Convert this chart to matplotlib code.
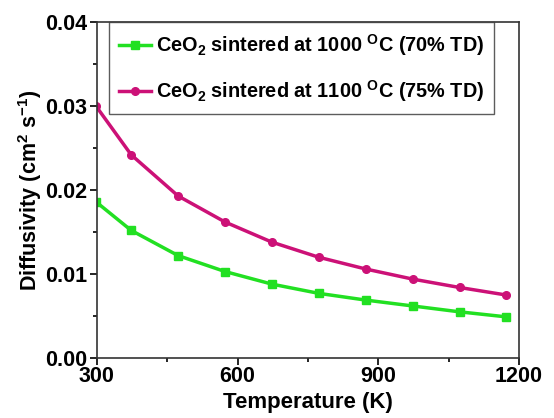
import matplotlib
matplotlib.use("Agg")
import matplotlib.pyplot as plt
from matplotlib.ticker import MultipleLocator

plt.rcParams["font.family"] = "Liberation Sans"
plt.rcParams["font.weight"] = "bold"
plt.rcParams["mathtext.fontset"] = "custom"
plt.rcParams["mathtext.rm"] = "Liberation Sans:bold"
plt.rcParams["mathtext.bf"] = "Liberation Sans:bold"
plt.rcParams["mathtext.default"] = "bf"

temperature = [298, 373, 473, 573, 673, 773, 873, 973, 1073, 1173]
d_1000 = [0.0186, 0.0152, 0.0122, 0.0103, 0.0088, 0.0077, 0.0069, 0.0062, 0.0055, 0.0049]
d_1100 = [0.0300, 0.0242, 0.0193, 0.0162, 0.0138, 0.0120, 0.0106, 0.0094, 0.0084, 0.0075]

label_1000 = r"CeO$_2$ sintered at 1000 $^{O}$C (70% TD)"
label_1100 = r"CeO$_2$ sintered at 1100 $^{O}$C (75% TD)"

fig = plt.figure(figsize=(5.54, 4.18), dpi=100)
ax = fig.add_axes([0.175, 0.1435, 0.762, 0.8035])

ax.plot(temperature, d_1000, color="#22e022", marker="s", markersize=5.5,
        linewidth=2.5, label=label_1000)
ax.plot(temperature, d_1100, color="#cc1177", marker="o", markersize=5.5,
        linewidth=2.5, label=label_1100)

ax.set_xlim(300, 1200)
ax.set_ylim(0, 0.04)
ax.xaxis.set_major_locator(MultipleLocator(300))
ax.xaxis.set_minor_locator(MultipleLocator(150))
ax.yaxis.set_major_locator(MultipleLocator(0.01))
ax.yaxis.set_minor_locator(MultipleLocator(0.005))
ax.yaxis.set_major_formatter(plt.FormatStrFormatter("%.2f"))
ax.tick_params(which="major", direction="out", length=5, width=1.2, labelsize=15.5)
ax.tick_params(which="minor", direction="out", length=3, width=1.2)
ax.tick_params(axis="x", pad=1)
ax.tick_params(axis="y", pad=2)

for s in ax.spines.values():
    s.set_linewidth(1.2)
    s.set_color("#333333")

ax.set_xlabel("Temperature (K)", fontsize=16, fontweight="bold", labelpad=3)
ax.set_ylabel(r"Diffusivity (cm$^2$ s$^{-1}$)", fontsize=15.5, fontweight="bold", labelpad=1)

leg = ax.legend(loc="upper right", bbox_to_anchor=(0.94, 1.0), fontsize=14.3,
                frameon=True, fancybox=False, edgecolor="#333333",
                handlelength=1.6, handletextpad=0.25, borderpad=0.5,
                borderaxespad=0.0, labelspacing=1.0)
leg.get_frame().set_linewidth(1.0)

fig.savefig("out.png", dpi=100)
